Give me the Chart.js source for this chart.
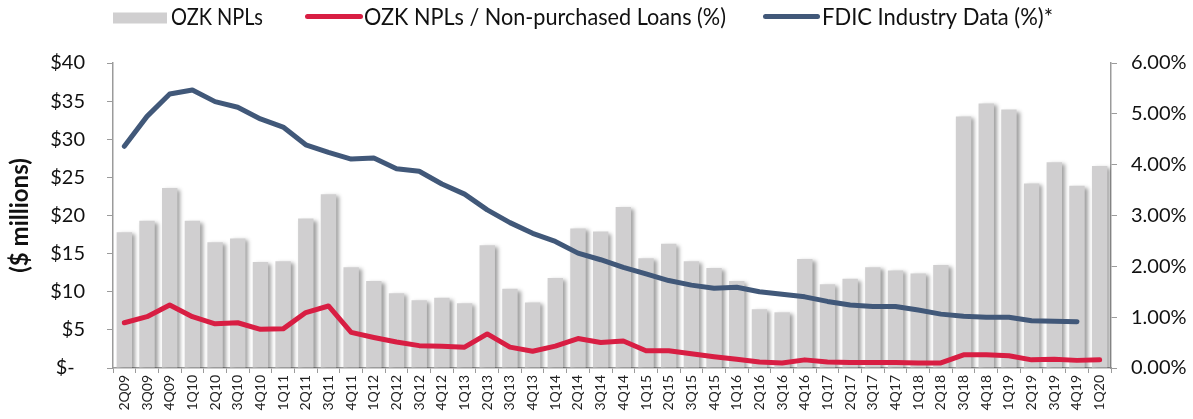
<!DOCTYPE html>
<html>
<head>
<meta charset="utf-8">
<script src="https://cdn.jsdelivr.net/npm/chart.js@4.4.1/dist/chart.umd.min.js"></script>
<style>
    html, body { margin: 0; padding: 0; background: #fff; }
    #wrap { width: 1193px; height: 419px; position: relative; }
</style>
</head>
<body>
<div id="wrap"><canvas id="npaChart"></canvas></div>
<script>
// Quarter labels
const quarters = [
    '2Q09', '3Q09', '4Q09',
    '1Q10', '2Q10', '3Q10', '4Q10',
    '1Q11', '2Q11', '3Q11', '4Q11',
    '1Q12', '2Q12', '3Q12', '4Q12',
    '1Q13', '2Q13', '3Q13', '4Q13',
    '1Q14', '2Q14', '3Q14', '4Q14',
    '1Q15', '2Q15', '3Q15', '4Q15',
    '1Q16', '2Q16', '3Q16', '4Q16',
    '1Q17', '2Q17', '3Q17', '4Q17',
    '1Q18', '2Q18', '3Q18', '4Q18',
    '1Q19', '2Q19', '3Q19', '4Q19',
    '1Q20'
];

// OZK NPLs ($ millions)
const ozkNpls = [
    17.8, 19.3, 23.6,
    19.3, 16.5, 17.0, 13.9,
    14.0, 19.6, 22.8, 13.2,
    11.4, 9.8, 8.9, 9.2,
    8.5, 16.1, 10.4, 8.6,
    11.8, 18.3, 17.9, 21.1,
    14.4, 16.3, 14.0, 13.1,
    11.4, 7.7, 7.3, 14.3,
    11.0, 11.7, 13.2, 12.8,
    12.4, 13.5, 33.0, 34.7,
    33.9, 24.2, 27.0, 23.9,
    26.5
];

// OZK NPLs / Non-purchased Loans (%)
const ozkNplRatio = [
    0.89, 1.01, 1.24,
    1.01, 0.87, 0.89, 0.76,
    0.77, 1.09, 1.22, 0.70,
    0.60, 0.51, 0.44, 0.43,
    0.41, 0.67, 0.41, 0.33,
    0.43, 0.58, 0.50, 0.53,
    0.34, 0.34, 0.28, 0.22,
    0.17, 0.12, 0.10, 0.16,
    0.12, 0.11, 0.11, 0.11,
    0.10, 0.10, 0.26, 0.26,
    0.24, 0.16, 0.17, 0.15,
    0.16
];

// FDIC Industry Data (%) - no value yet for 1Q20
const fdicRatio = [
    4.36, 4.95, 5.39,
    5.47, 5.24, 5.13, 4.90,
    4.74, 4.39, 4.24, 4.11,
    4.13, 3.92, 3.87, 3.62,
    3.42, 3.11, 2.86, 2.65,
    2.49, 2.26, 2.13, 1.98,
    1.85, 1.72, 1.63, 1.57,
    1.59, 1.50, 1.45, 1.40,
    1.31, 1.24, 1.21, 1.21,
    1.14, 1.06, 1.02, 1.00,
    1.00, 0.93, 0.92, 0.91,
    null
];

// Axis ranges
const dollarAxis = { min: 0, max: 40, step: 5 };
const pctAxis = { min: 0, max: 6, step: 1 };

const FONT = 'Lato, "Liberation Sans", sans-serif';
const AXIS_GREY = '#9b9b9b';

// Soft drop shadow behind the bars, like the original
const barShadow = {
    id: 'barShadow',
    beforeDatasetDraw(chart, args) {
        if (args.index !== 0) return;
        const ctx = chart.ctx;
        ctx.save();
        ctx.shadowColor = 'rgba(0, 0, 0, 0.38)';
        ctx.shadowBlur = 4;
        ctx.shadowOffsetX = 3;
        ctx.shadowOffsetY = 2;
    },
    afterDatasetDraw(chart, args) {
        if (args.index !== 0) return;
        chart.ctx.restore();
    }
};

// Legend row drawn by hand so the keys sit where the original has them
const legendRow = {
    id: 'legendRow',
    afterDraw(chart, args, opts) {
        const ctx = chart.ctx;
        chart.data.datasets.forEach((ds, i) => {
            const slot = opts.slots[i];
            ctx.save();
            if (ds.type === 'bar') {
                ctx.fillStyle = ds.backgroundColor;
                ctx.fillRect(slot.x, opts.y - 5.5, slot.key, 11);
            } else {
                ctx.strokeStyle = ds.borderColor;
                ctx.lineWidth = 5;
                ctx.lineCap = 'round';
                ctx.beginPath();
                ctx.moveTo(slot.x + 2.5, opts.y - 1.5);
                ctx.lineTo(slot.x + slot.key - 2.5, opts.y - 1.5);
                ctx.stroke();
            }
            ctx.font = opts.font;
            ctx.fillStyle = '#111';
            ctx.textBaseline = 'middle';
            ctx.fillText(ds.label, slot.x + slot.key + slot.gap, opts.y, slot.text);
            ctx.restore();
        });
    }
};

new Chart(document.getElementById('npaChart'), {
    data: {
        labels: quarters,
        datasets: [{
            type: 'bar',
            label: 'OZK NPLs',
            data: ozkNpls,
            yAxisID: 'yUsd',
            backgroundColor: '#d0cfd0',
            borderWidth: 0,
            barPercentage: 0.68,
            categoryPercentage: 1,
            order: 3
        }, {
            type: 'line',
            label: 'OZK NPLs / Non-purchased Loans (%)',
            data: ozkNplRatio,
            yAxisID: 'yPct',
            borderColor: '#d81e43',
            backgroundColor: '#d81e43',
            borderWidth: 5,
            pointRadius: 0,
            borderCapStyle: 'round',
            borderJoinStyle: 'round',
            tension: 0,
            order: 2
        }, {
            type: 'line',
            label: 'FDIC Industry Data (%)*',
            data: fdicRatio,
            yAxisID: 'yPct',
            borderColor: '#415879',
            backgroundColor: '#415879',
            borderWidth: 5,
            pointRadius: 0,
            borderCapStyle: 'round',
            borderJoinStyle: 'round',
            tension: 0,
            spanGaps: false,
            order: 1
        }]
    },
    options: {
        responsive: true,
        maintainAspectRatio: false,
        animation: false,
        layout: { padding: { top: 63, left: 0, right: 0, bottom: 0 } },
        plugins: {
            tooltip: { enabled: false },
            legend: { display: false },
            legendRow: {
                y: 18,
                font: '23px ' + FONT,
                slots: [
                    { x: 113, key: 54, gap: 4, text: 92 },
                    { x: 305, key: 58, gap: 1, text: 362 },
                    { x: 763, key: 57, gap: 2, text: 231 }
                ]
            }
        },
        scales: {
            x: {
                offset: true,
                grid: {
                    display: true,
                    offset: true,
                    drawOnChartArea: false,
                    drawTicks: true,
                    tickLength: 5,
                    color: AXIS_GREY
                },
                border: { display: true, color: AXIS_GREY, width: 1.5 },
                ticks: {
                    autoSkip: false,
                    minRotation: 90,
                    maxRotation: 90,
                    padding: 2,
                    font: { family: FONT, size: 14 },
                    color: '#222'
                },
                afterFit(scale) { scale.height = 51; }
            },
            yUsd: {
                position: 'left',
                min: dollarAxis.min,
                max: dollarAxis.max,
                grid: {
                    display: true,
                    drawOnChartArea: false,
                    drawTicks: true,
                    tickLength: 6,
                    color: AXIS_GREY
                },
                border: { display: true, color: AXIS_GREY, width: 1.5 },
                ticks: {
                    stepSize: dollarAxis.step,
                    padding: 22,
                    font: { family: FONT, size: 20 },
                    color: '#111',
                    callback: v => (v === 0 ? '$-  ' : '$' + v)
                },
                title: {
                    display: true,
                    text: '($ millions)',
                    font: { family: FONT, size: 24, weight: 'bold' },
                    color: '#111',
                    padding: { top: 6, bottom: 0 }
                },
                afterFit(scale) { scale.width = 113; }
            },
            yPct: {
                position: 'right',
                min: pctAxis.min,
                max: pctAxis.max,
                grid: {
                    display: true,
                    drawOnChartArea: false,
                    drawTicks: true,
                    tickLength: 6,
                    color: AXIS_GREY
                },
                border: { display: true, color: AXIS_GREY, width: 1.5 },
                ticks: {
                    stepSize: pctAxis.step,
                    padding: 14,
                    font: { family: FONT, size: 20 },
                    color: '#111',
                    callback: v => v.toFixed(2) + '%'
                },
                afterFit(scale) { scale.width = 82; }
            }
        }
    },
    plugins: [barShadow, legendRow]
});
</script>
</body>
</html>
